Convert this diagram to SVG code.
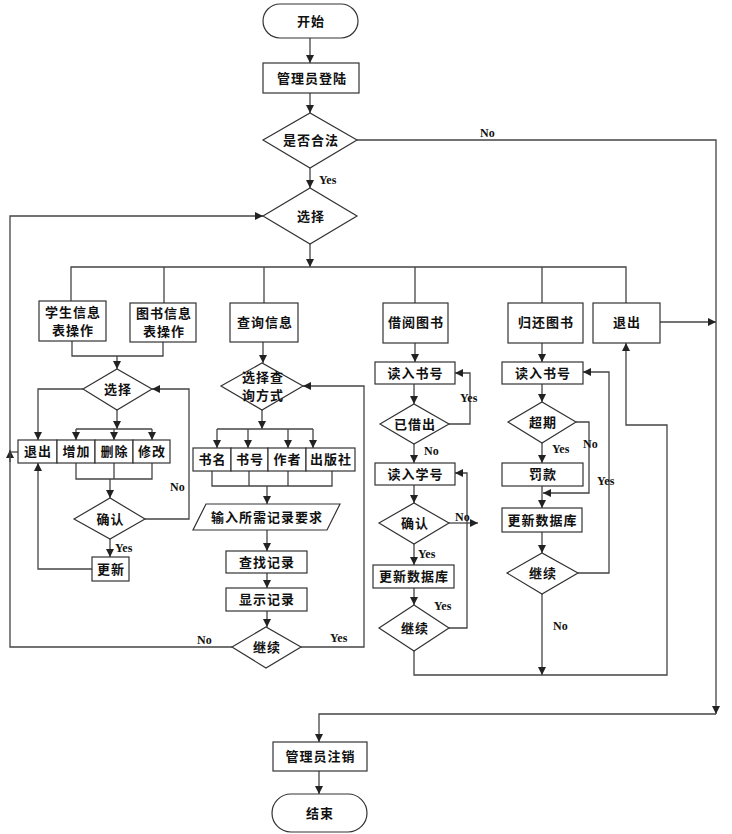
<svg xmlns="http://www.w3.org/2000/svg" width="732" height="834" viewBox="0 0 732 834">
<style>
.n rect,.n polygon{fill:#fff;stroke:#333;stroke-width:1.2}
.t{font-family:"Noto Sans CJK SC","Noto Sans CJK JP",sans-serif;font-size:13px;font-weight:bold;fill:#111;text-anchor:middle;letter-spacing:1px}
.l{font-family:"Liberation Serif",serif;font-size:12px;font-weight:bold;fill:#111}
#c path{fill:none;stroke:#444;stroke-width:1.3}
</style>
<defs>
<marker id="a" viewBox="0 0 10 10" refX="10" refY="5" markerWidth="8" markerHeight="8" orient="auto" markerUnits="userSpaceOnUse"><path d="M0,0 L10,5 L0,10 z" fill="#222"/></marker>
</defs>
<rect width="732" height="834" fill="#fff"/>
<g id="c">
<path d="M310,38 V63" marker-end="url(#a)"/>
<path d="M310,93 V113" marker-end="url(#a)"/>
<path d="M310,168 V188" marker-end="url(#a)"/>
<path d="M310,244 V267" marker-end="url(#a)"/>
<path d="M71,301 V267 H626 V303"/>
<path d="M164,267 V303"/>
<path d="M264,267 V303"/>
<path d="M415,267 V303"/>
<path d="M542,267 V303"/>
<path d="M72,341 V356 H163 V342"/>
<path d="M117,356 V369" marker-end="url(#a)"/>
<path d="M83,389 H38 V440" marker-end="url(#a)"/>
<path d="M117,410 V429" marker-end="url(#a)"/>
<path d="M76,429 H152"/>
<path d="M76,429 V440" marker-end="url(#a)"/>
<path d="M114,429 V440" marker-end="url(#a)"/>
<path d="M152,429 V440" marker-end="url(#a)"/>
<path d="M76,463 V479 H152 V463"/>
<path d="M114,463 V479"/>
<path d="M110,479 V498" marker-end="url(#a)"/>
<path d="M145,519 H189 V389 H152" marker-end="url(#a)"/>
<path d="M110,539 V557" marker-end="url(#a)"/>
<path d="M92,569 H38 V463" marker-end="url(#a)"/>
<path d="M18,452 H10"/>
<path d="M10,462 V450" marker-end="url(#a)"/>
<path d="M232,647 H10 V216 H263" marker-end="url(#a)"/>
<path d="M263,342 V363" marker-end="url(#a)"/>
<path d="M262,410 V429" marker-end="url(#a)"/>
<path d="M217,429 H313"/>
<path d="M217,429 V448" marker-end="url(#a)"/>
<path d="M248,429 V448" marker-end="url(#a)"/>
<path d="M288,429 V448" marker-end="url(#a)"/>
<path d="M313,429 V448" marker-end="url(#a)"/>
<path d="M212,471 V486 H332 V471"/>
<path d="M249,471 V486"/>
<path d="M288,471 V486"/>
<path d="M267,486 V504" marker-end="url(#a)"/>
<path d="M267,530 V551" marker-end="url(#a)"/>
<path d="M267,573 V588" marker-end="url(#a)"/>
<path d="M267,611 V627" marker-end="url(#a)"/>
<path d="M301,647 H364 V386 H303" marker-end="url(#a)"/>
<path d="M415,343 V362" marker-end="url(#a)"/>
<path d="M414,384 V404" marker-end="url(#a)"/>
<path d="M449,424 H470 V373 H455" marker-end="url(#a)"/>
<path d="M414,444 V463" marker-end="url(#a)"/>
<path d="M414,485 V503" marker-end="url(#a)"/>
<path d="M449,523 H478" marker-end="url(#a)"/>
<path d="M414,544 V565" marker-end="url(#a)"/>
<path d="M414,588 V605" marker-end="url(#a)"/>
<path d="M449,628 H467 V473 H455" marker-end="url(#a)"/>
<path d="M414,651 V675 H667 V425 H626 V343" marker-end="url(#a)"/>
<path d="M542,343 V362" marker-end="url(#a)"/>
<path d="M542,384 V402" marker-end="url(#a)"/>
<path d="M576,422 H589 V493 H543" marker-end="url(#a)"/>
<path d="M542,443 V463" marker-end="url(#a)"/>
<path d="M542,486 V508" marker-end="url(#a)"/>
<path d="M542,532 V553" marker-end="url(#a)"/>
<path d="M578,573 H609 V372 H583" marker-end="url(#a)"/>
<path d="M542,594 V675" marker-end="url(#a)"/>
<path d="M660,322 H716" marker-end="url(#a)"/>
<path d="M357,140 H716 V714" marker-end="url(#a)"/>
<path d="M716,714 H319 V742" marker-end="url(#a)"/>
<path d="M319,771 V794" marker-end="url(#a)"/>
</g>
<g id="start" class="n"><rect x="263" y="4" width="95" height="34" rx="17"/><text class="t" x="311" y="26">开始</text></g>
<g id="login" class="n"><rect x="263" y="63" width="96" height="30"/><text class="t" x="312" y="83">管理员登陆</text></g>
<g id="legal" class="n"><polygon points="263,140 310,113 357,140 310,168"/><text class="t" x="311" y="145">是否合法</text></g>
<g id="select" class="n"><polygon points="263,216 310,188 357,216 310,244"/><text class="t" x="311" y="221">选择</text></g>
<g id="stu" class="n"><rect x="39" y="301" width="67" height="40"/><text class="t" x="73" y="317">学生信息</text><text class="t" x="73" y="335">表操作</text></g>
<g id="book" class="n"><rect x="130" y="303" width="66" height="39"/><text class="t" x="164" y="318">图书信息</text><text class="t" x="164" y="336">表操作</text></g>
<g id="query" class="n"><rect x="230" y="303" width="68" height="39"/><text class="t" x="265" y="327">查询信息</text></g>
<g id="borrow" class="n"><rect x="383" y="303" width="65" height="40"/><text class="t" x="416" y="327">借阅图书</text></g>
<g id="return" class="n"><rect x="508" y="303" width="75" height="40"/><text class="t" x="546" y="327">归还图书</text></g>
<g id="exit" class="n"><rect x="593" y="303" width="67" height="40"/><text class="t" x="627" y="327">退出</text></g>
<g id="sel2" class="n"><polygon points="83,389 117,369 152,389 117,410"/><text class="t" x="118" y="394">选择</text></g>
<g id="op-exit" class="n"><rect x="18" y="440" width="39" height="23"/><text class="t" x="38" y="456">退出</text></g>
<g id="op-add" class="n"><rect x="57" y="440" width="38" height="23"/><text class="t" x="76.5" y="456">增加</text></g>
<g id="op-del" class="n"><rect x="95" y="440" width="38" height="23"/><text class="t" x="114.5" y="456">删除</text></g>
<g id="op-mod" class="n"><rect x="133" y="440" width="37" height="23"/><text class="t" x="152" y="456">修改</text></g>
<g id="confirm1" class="n"><polygon points="74,519 110,498 145,519 110,539"/><text class="t" x="110.5" y="524">确认</text></g>
<g id="update1" class="n"><rect x="92" y="557" width="37" height="24"/><text class="t" x="111" y="574">更新</text></g>
<g id="qsel" class="n"><polygon points="221,386 262,363 303,386 262,410"/><text class="t" x="263" y="382">选择查</text><text class="t" x="263" y="400">询方式</text></g>
<g id="q1" class="n"><rect x="193" y="448" width="38" height="23"/><text class="t" x="212.5" y="464">书名</text></g>
<g id="q2" class="n"><rect x="231" y="448" width="37" height="23"/><text class="t" x="250" y="464">书号</text></g>
<g id="q3" class="n"><rect x="268" y="448" width="38" height="23"/><text class="t" x="287.5" y="464">作者</text></g>
<g id="q4" class="n"><rect x="306" y="448" width="49" height="23"/><text class="t" x="331" y="464">出版社</text></g>
<g id="input" class="n"><polygon points="206,504 340,504 327,530 193,530"/><text class="t" x="267" y="522">输入所需记录要求</text></g>
<g id="find" class="n"><rect x="226" y="551" width="81" height="22"/><text class="t" x="267" y="567">查找记录</text></g>
<g id="show" class="n"><rect x="226" y="588" width="81" height="23"/><text class="t" x="267" y="604">显示记录</text></g>
<g id="qcont" class="n"><polygon points="232,647 266,627 301,647 266,668"/><text class="t" x="267" y="652">继续</text></g>
<g id="b1" class="n"><rect x="375" y="362" width="80" height="22"/><text class="t" x="415.5" y="378">读入书号</text></g>
<g id="b2" class="n"><polygon points="380,424 414,404 449,424 414,444"/><text class="t" x="415" y="429">已借出</text></g>
<g id="b3" class="n"><rect x="375" y="463" width="80" height="22"/><text class="t" x="415.5" y="479">读入学号</text></g>
<g id="b4" class="n"><polygon points="379,523 414,503 449,523 414,544"/><text class="t" x="415" y="528">确认</text></g>
<g id="b5" class="n"><rect x="373" y="565" width="81" height="23"/><text class="t" x="414" y="581">更新数据库</text></g>
<g id="b6" class="n"><polygon points="379,628 414,605 449,628 414,651"/><text class="t" x="415" y="633">继续</text></g>
<g id="r1" class="n"><rect x="502" y="362" width="81" height="22"/><text class="t" x="543" y="378">读入书号</text></g>
<g id="r2" class="n"><polygon points="508,422 542,402 576,422 542,443"/><text class="t" x="543" y="427">超期</text></g>
<g id="r3" class="n"><rect x="502" y="463" width="81" height="23"/><text class="t" x="543" y="479">罚款</text></g>
<g id="r4" class="n"><rect x="502" y="508" width="80" height="24"/><text class="t" x="542.5" y="525">更新数据库</text></g>
<g id="r5" class="n"><polygon points="507,573 542,553 578,573 542,594"/><text class="t" x="543" y="578">继续</text></g>
<g id="logout" class="n"><rect x="273" y="742" width="94" height="29"/><text class="t" x="320.5" y="761">管理员注销</text></g>
<g id="end" class="n"><rect x="272" y="794" width="95" height="38" rx="19"/><text class="t" x="320" y="818">结束</text></g>
<g id="labels">
<text class="l" x="480" y="137">No</text>
<text class="l" x="319" y="184">Yes</text>
<text class="l" x="170" y="491">No</text>
<text class="l" x="115" y="552">Yes</text>
<text class="l" x="197" y="644">No</text>
<text class="l" x="330" y="642">Yes</text>
<text class="l" x="460" y="402">Yes</text>
<text class="l" x="424" y="455">No</text>
<text class="l" x="455" y="521">No</text>
<text class="l" x="418" y="558">Yes</text>
<text class="l" x="434" y="610">Yes</text>
<text class="l" x="583" y="448">No</text>
<text class="l" x="552" y="453">Yes</text>
<text class="l" x="597" y="485">Yes</text>
<text class="l" x="553" y="630">No</text>
</g>
</svg>
